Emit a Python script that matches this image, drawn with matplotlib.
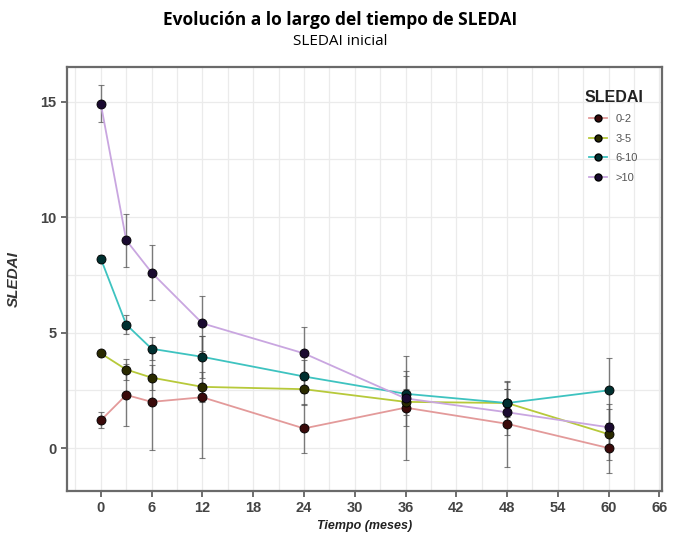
# SLEDAI a lo largo del tiempo
import matplotlib
matplotlib.use('Agg')
from matplotlib import pyplot as plt
from matplotlib.ticker import MultipleLocator

meses = [0, 3, 6, 12, 24, 36, 48, 60]
grupos = ['0-2', '3-5', '6-10', '>10']

s_0_2 = [1.2, 2.3, 2.0, 2.2, 0.85, 1.75, 1.05, 0.0]
e_0_2 = [0.35, 1.35, 2.1, 2.65, 1.05, 2.25, 1.85, 1.1]
s_3_5 = [4.1, 3.4, 3.05, 2.65, 2.55, 2.0, 1.95, 0.6]
e_3_5 = [0.1, 0.45, 0.55, 0.65, 0.7, 0.55, 0.6, 1.1]
s_6_10 = [8.2, 5.35, 4.3, 3.95, 3.1, 2.35, 1.95, 2.5]
e_6_10 = [0.15, 0.4, 0.5, 0.9, 0.7, 0.75, 0.9, 1.4]
s_may10 = [14.9, 9.0, 7.6, 5.4, 4.1, 2.15, 1.55, 0.9]
e_may10 = [0.8, 1.15, 1.2, 1.2, 1.15, 1.2, 1.0, 1.0]

series = [s_0_2, s_3_5, s_6_10, s_may10]
errores = [e_0_2, e_3_5, e_6_10, e_may10]
colores = ['#e39a9a', '#b7c93a', '#3ec3c0', '#c9a6e0']
relleno = ['#3a0a0a', '#2a2a00', '#003030', '#1a0a30']

plt.rcParams['font.family'] = ['Liberation Sans', 'DejaVu Sans']

fig = plt.figure(figsize=(6.8, 5.34), dpi=100)
ax = fig.add_axes([0.0985, 0.0805, 0.875, 0.794])

for y, e, c, f, g in zip(series, errores, colores, relleno, grupos):
    ax.errorbar(meses, y, yerr=e, fmt='none', ecolor='#555555', elinewidth=1.0,
                capsize=2.5, capthick=0.8, alpha=0.75, zorder=2)
    ax.plot(meses, y, color=c, lw=1.3, zorder=3)
    ax.plot(meses, y, ls='none', marker='o', ms=6.5, mfc=f, mec='black',
            mew=0.6, zorder=4)
    ax.plot([], [], color=c, lw=1.3, marker='o', ms=5, mfc=f, mec='black', label=g)

ax.set_xlim(-4, 66.3)
ax.set_ylim(-1.86, 16.5)
ax.set_xticks(range(0, 67, 6))
ax.set_yticks([0, 5, 10, 15])
ax.xaxis.set_minor_locator(MultipleLocator(3))
ax.yaxis.set_minor_locator(MultipleLocator(2.5))
ax.grid(True, which='both', color='#ebebeb', lw=0.9)
ax.set_axisbelow(True)
for s in ax.spines.values():
    s.set_color('#6a6a6a')
    s.set_linewidth(1.6)
ax.tick_params(which='minor', length=0)
ax.tick_params(which='major', length=4, width=1.2, color='#555555',
               labelsize=10.5, labelcolor='#444444')
for t in ax.get_xticklabels() + ax.get_yticklabels():
    t.set_fontweight('bold')

ax.set_ylabel('SLEDAI', fontsize=11, fontweight='bold', style='italic',
              color='#333333', labelpad=14)
ax.set_xlabel('Tiempo (meses)', fontsize=9, fontweight='bold', style='italic',
              color='#222222', labelpad=3)

leg = ax.legend(title='SLEDAI', loc='upper right', bbox_to_anchor=(0.985, 0.97),
                frameon=False, fontsize=8, handlelength=1.6, labelspacing=0.85,
                labelcolor='#555555')
leg.get_title().set_fontweight('bold')
leg.get_title().set_fontsize(11.5)
leg.get_title().set_color('#222222')

fig.text(0.5, 0.963, 'Evolución a lo largo del tiempo de SLEDAI', ha='center',
         va='center', fontsize=12.5, fontweight='bold', family=['Open Sans', 'DejaVu Sans'])
fig.text(0.5, 0.923, 'SLEDAI inicial', ha='center', va='center', fontsize=11,
         family=['Open Sans', 'DejaVu Sans'])

plt.savefig('out.png', dpi=100)
